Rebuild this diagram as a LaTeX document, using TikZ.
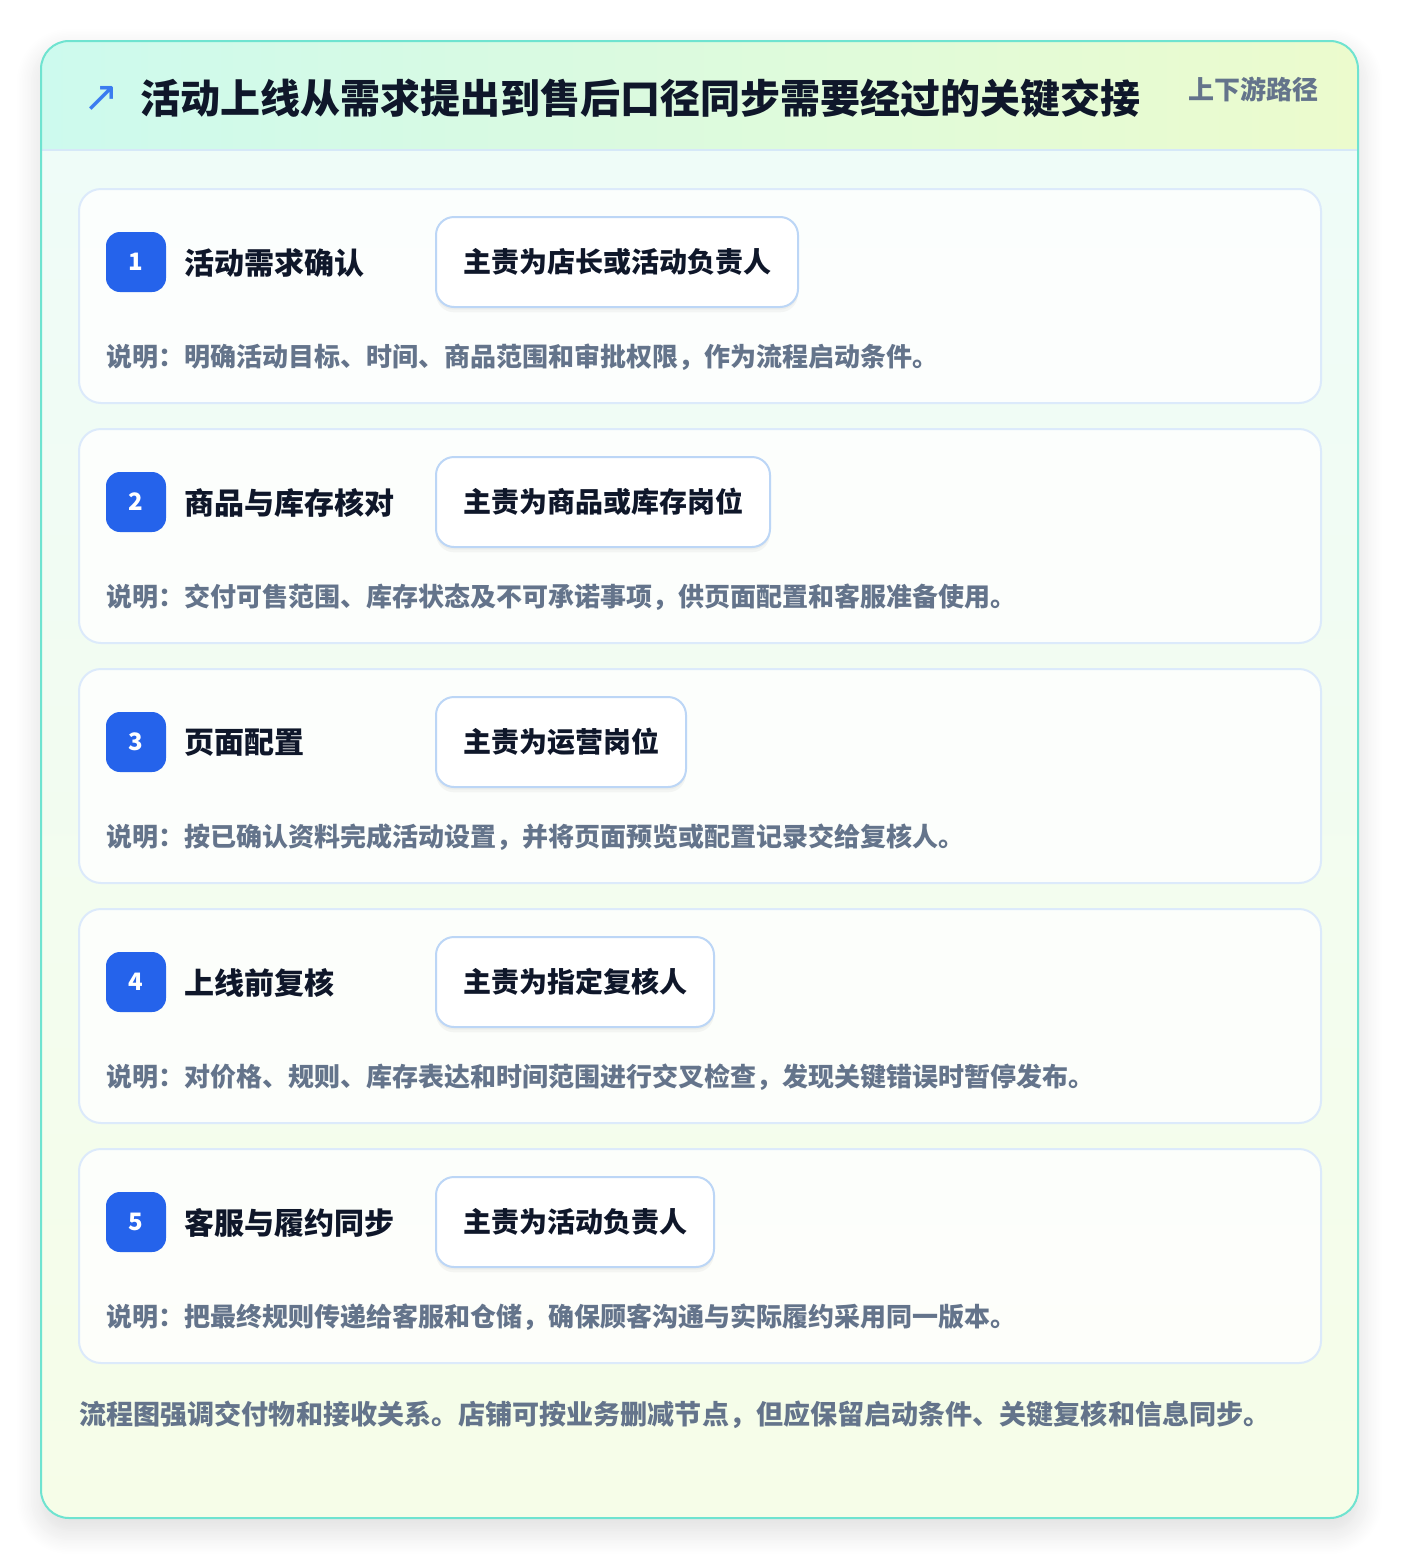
\documentclass[tikz,border=0pt]{standalone}
\usepackage{fontspec}
\setmainfont{Noto Sans CJK SC}
\newfontfamily\symfont{DejaVu Sans}
\usetikzlibrary{shadows.blur}

\definecolor{edgeteal}{HTML}{6FE3D0}
\definecolor{headleft}{HTML}{CDFAEE}
\definecolor{headright}{HTML}{ECFBCD}
\definecolor{bodytop}{HTML}{EFFCF8}
\definecolor{bodybottom}{HTML}{F6FDE8}
\definecolor{headline}{HTML}{D6E8F8}
\definecolor{cardline}{HTML}{DCEAFB}
\definecolor{roleline}{HTML}{BCD6F6}
\definecolor{stepblue}{HTML}{2563EB}
\definecolor{iconblue}{HTML}{3B7CF0}
\definecolor{ink}{HTML}{0F172A}
\definecolor{slate}{HTML}{64748B}

\tikzset{every picture/.style={line width=0.75pt},
  card/.style={draw=cardline, line width=1.5pt, fill=white, fill opacity=0.8, rounded corners=16.5pt},
  badge/.style={fill=stepblue, rounded corners=10.5pt, minimum size=45pt, inner sep=0pt, text=white, font=\fontsize{18}{21}\selectfont\bfseries},
  steptitle/.style={anchor=west, inner sep=0pt, text=ink, font=\fontsize{22.5}{27}\selectfont\bfseries},
  rolebox/.style={anchor=west, draw=roleline, line width=1.5pt, fill=white, rounded corners=13.5pt, inner xsep=20.25pt, inner ysep=0pt, minimum height=67.5pt, text=ink, font=\fontsize{21}{25}\selectfont\bfseries,
    preaction={draw=none, fill=black, fill opacity=0.035, transform canvas={yshift=-4pt}},
    preaction={draw=none, fill=black, fill opacity=0.03, transform canvas={yshift=-2pt}}},
  note/.style={anchor=west, inner sep=0pt, text=slate, font=\fontsize{19.5}{23}\selectfont\bfseries},
}

\begin{document}
\begin{tikzpicture}[x=0.75pt,y=0.75pt,yscale=-1,xscale=1]
\useasboundingbox (0,0) rectangle (1400,1560);

%Shape: Outer panel shadow
\path [fill=white, rounded corners=21pt, blur shadow={shadow xshift=0pt, shadow yshift=-9pt, shadow blur radius=18pt, shadow blur steps=16, shadow opacity=14}] (41,41) rectangle (1358,1518);
%Shape: Outer panel fill and header band
\begin{scope}
\clip [rounded corners=21pt] (41,41) rectangle (1358,1518);
\shade [top color=bodytop, bottom color=bodybottom] (41,150) rectangle (1358,1518);
\shade [left color=headleft, right color=headright] (41,41) rectangle (1358,150);
\end{scope}
%Straight Lines: header rule
\draw [headline, line width=1.2pt] (41,150) -- (1358,150);
%Shape: Outer panel border
\draw [edgeteal, line width=1.5pt, rounded corners=21pt] (41,41) rectangle (1358,1518);

% Text Node
\node [anchor=center, inner sep=0pt, text=iconblue, font=\symfont\fontsize{32}{36}\selectfont] (icon) at (101,99) {↗};
% Text Node
\node [anchor=west, inner sep=0pt, text=ink, font=\fontsize{30}{36}\selectfont\bfseries] (title) at (140,98) {活动上线从需求提出到售后口径同步需要经过的关键交接};
% Text Node
\node [anchor=west, inner sep=0pt, text=slate, font=\fontsize{19.5}{23}\selectfont\bfseries] (tag) at (1188,89) {上下游路径};

%Shape: Card 1
\draw [card] (79,189) rectangle (1321,403);
\node [badge] (num1) at (136,262) {1};
\node [steptitle] (step1) at (184,263) {活动需求确认};
\node [rolebox] (role1) at (435,262) {主责为店长或活动负责人};
\node [note] (note1) at (106,357) {说明：明确活动目标、时间、商品范围和审批权限，作为流程启动条件。};

%Shape: Card 2
\draw [card] (79,429) rectangle (1321,643);
\node [badge] (num2) at (136,502) {2};
\node [steptitle] (step2) at (184,503) {商品与库存核对};
\node [rolebox] (role2) at (435,502) {主责为商品或库存岗位};
\node [note] (note2) at (106,597) {说明：交付可售范围、库存状态及不可承诺事项，供页面配置和客服准备使用。};

%Shape: Card 3
\draw [card] (79,669) rectangle (1321,883);
\node [badge] (num3) at (136,742) {3};
\node [steptitle] (step3) at (184,743) {页面配置};
\node [rolebox] (role3) at (435,742) {主责为运营岗位};
\node [note] (note3) at (106,837) {说明：按已确认资料完成活动设置，并将页面预览或配置记录交给复核人。};

%Shape: Card 4
\draw [card] (79,909) rectangle (1321,1123);
\node [badge] (num4) at (136,982) {4};
\node [steptitle] (step4) at (184,983) {上线前复核};
\node [rolebox] (role4) at (435,982) {主责为指定复核人};
\node [note] (note4) at (106,1077) {说明：对价格、规则、库存表达和时间范围进行交叉检查，发现关键错误时暂停发布。};

%Shape: Card 5
\draw [card] (79,1149) rectangle (1321,1363);
\node [badge] (num5) at (136,1222) {5};
\node [steptitle] (step5) at (184,1223) {客服与履约同步};
\node [rolebox] (role5) at (435,1222) {主责为活动负责人};
\node [note] (note5) at (106,1317) {说明：把最终规则传递给客服和仓储，确保顾客沟通与实际履约采用同一版本。};

% Text Node
\node [anchor=west, inner sep=0pt, text=slate, font=\fontsize{20.3}{24}\selectfont\bfseries] (footer) at (79,1415) {流程图强调交付物和接收关系。店铺可按业务删减节点，但应保留启动条件、关键复核和信息同步。};

\end{tikzpicture}
\end{document}
